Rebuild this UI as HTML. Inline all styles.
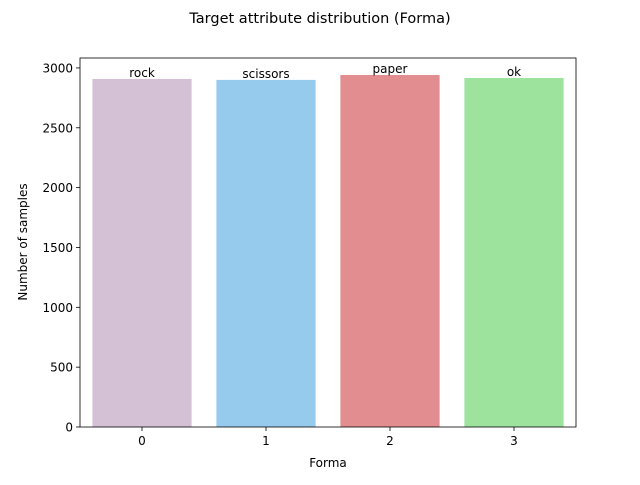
<!DOCTYPE html>
<html><head><meta charset="utf-8"><style>
body{margin:0;background:#fff;font-family:"Liberation Sans","DejaVu Sans",sans-serif}
svg text{font-family:"DejaVu Sans","Liberation Sans",sans-serif}
</style></head><body>
<svg id="chart" width="640" height="480"></svg>
<script>
const categories=["0","1","2","3"];
const labels=["rock","scissors","paper","ok"];
const values=[2908,2900,2941,2916];
const colors=["#d5c1d6","#97cbee","#e28d90","#9de29d"];
const yTicks=[0,500,1000,1500,2000,2500,3000];
const L=80,R=576,T=58,B=427,YMAX=3083;
const x=i=>L+(i+0.5)*(R-L)/categories.length;
const y=v=>B-v*(B-T)/YMAX;
const NS="http://www.w3.org/2000/svg";
const svg=document.getElementById('chart');
function mk(t,a,txt){const e=document.createElementNS(NS,t);for(const k in a)e.setAttribute(k,a[k]);if(txt!=null)e.textContent=txt;svg.appendChild(e);return e;}
const bw=0.8*(R-L)/categories.length;
values.forEach((v,i)=>{
 const r=mk('rect',{x:x(i)-bw/2,y:y(v),width:bw,height:B-y(v),fill:colors[i]});
 
 
 const t=mk('text',{x:x(i),y:y(v)-2,'text-anchor':'middle','font-size':12},labels[i]);
 
 
 const tk=mk('line',{x1:x(i),x2:x(i),y1:B,y2:B+4,stroke:'#000','stroke-width':0.8});
 
 
 const tl=mk('text',{x:x(i),y:B+18,'text-anchor':'middle','font-size':12},categories[i]);
 
 
});
yTicks.forEach(v=>{
 const tk=mk('line',{x1:L-4,x2:L,y1:y(v),y2:y(v),stroke:'#000','stroke-width':0.8});
 
 
 const tl=mk('text',{x:L-7,y:y(v)+4.5,'text-anchor':'end','font-size':12},v);
 
 
});
const f=mk('rect',{x:L,y:T,width:R-L,height:B-T,fill:'none',stroke:'#000','stroke-width':0.8});


const ti=mk('text',{x:320,y:23,'text-anchor':'middle','font-size':14.5},'Target attribute distribution (Forma)');


const xt=mk('text',{x:328,y:467,'text-anchor':'middle','font-size':12},'Forma');


const yt=mk('text',{x:27,y:242,'text-anchor':'middle','font-size':12,transform:'rotate(-90 27 242)'},'Number of samples');


</script>
</body></html>
